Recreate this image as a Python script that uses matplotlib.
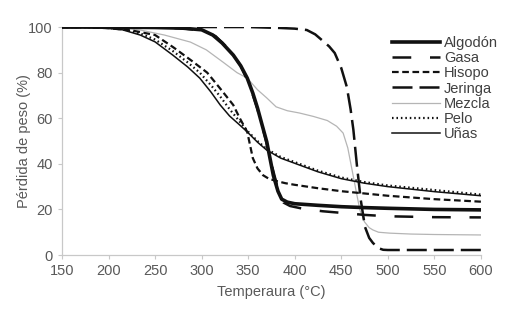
import matplotlib
matplotlib.use("Agg")
import matplotlib.pyplot as plt

plt.rcParams['font.family'] = ['Liberation Sans', 'DejaVu Sans']

alg_T = [150, 200, 250, 280, 300, 312, 322, 334, 342, 349, 355, 360, 365, 370, 377, 382, 386, 392, 400, 425, 450, 475, 500, 550, 600]
alg_w = [100, 100, 99.8, 99.5, 98.8, 96.5, 93, 87.7, 83, 77.6, 71, 64.5, 57, 49.6, 35, 28, 24.5, 23.2, 22.5, 21.8, 21.2, 20.8, 20.5, 20, 19.8]

gas_T = [150, 200, 250, 280, 300, 315, 330, 342, 352, 360, 368, 375, 382, 388, 395, 410, 430, 450, 475, 500, 550, 600]
gas_w = [100, 100, 99.8, 99.4, 98.5, 96, 90, 83, 74, 64, 52, 40, 29, 23, 21.5, 20.2, 19.2, 18.5, 17.6, 17, 16.6, 16.5]

his_T = [150, 175, 200, 225, 250, 270, 290, 306, 320, 334, 341, 349, 355, 360, 366, 372, 380, 390, 400, 425, 450, 475, 500, 550, 600]
his_w = [100, 99.9, 99.5, 98.5, 96.5, 91, 85, 80, 73, 65.8, 60, 54, 42.5, 38, 35, 33.5, 32.5, 31.5, 30.8, 29.3, 28, 27, 26, 24.5, 23.4]

jer_T = [150, 200, 250, 300, 350, 384, 400, 413, 422, 430, 437, 443, 450, 456, 460, 463, 467, 471, 475.5, 480, 484, 490, 495, 500, 550, 600]
jer_w = [100, 100, 100, 100, 100, 99.6, 99.3, 98.7, 96.8, 94, 91.5, 88.6, 82, 73.7, 64, 55, 38.6, 24, 12.3, 7.5, 5.3, 3, 2.3, 2.2, 2.2, 2.2]

mez_T = [150, 175, 200, 220, 234, 260, 288, 305, 323, 338, 349, 360, 370, 380, 392, 405, 420, 435, 445, 452, 457, 461, 466, 470, 475, 480, 484, 490, 502, 525, 550, 600]
mez_w = [100, 99.9, 99.7, 99.3, 98.7, 96.5, 93.4, 90, 84.6, 80, 77.6, 72.5, 68.9, 65, 63.3, 62.3, 60.8, 59, 56.5, 53.5, 47, 38.6, 28, 19.7, 14.5, 12, 11, 10, 9.6, 9.2, 9, 8.8]

pel_T = [150, 175, 200, 215, 234, 250, 269, 285, 298, 310, 320, 330, 341, 349, 360, 370, 385, 405, 425, 450, 475, 500, 550, 600]
pel_w = [100, 99.9, 99.6, 99, 97.2, 94.5, 89.5, 84.5, 80, 74.5, 69.5, 64, 58.5, 54.5, 50, 46.5, 43, 40, 37, 34, 32, 30.5, 28.5, 26.5]

una_T = [150, 175, 200, 215, 234, 250, 269, 285, 298, 310, 320, 330, 341, 349, 360, 370, 385, 405, 425, 450, 475, 500, 550, 600]
una_w = [100, 99.9, 99.4, 98.8, 96.5, 93.5, 87.7, 82.5, 77.6, 71.5, 65.8, 61, 57, 54, 49.5, 46, 42.5, 39.5, 36.5, 33.5, 31.5, 30, 27.8, 26]

x_ticks = [150, 200, 250, 300, 350, 400, 450, 500, 550, 600]
y_ticks = [0, 20, 40, 60, 80, 100]

fig = plt.figure(figsize=(5.14, 3.22), dpi=100)
ax = fig.add_axes([0.1206, 0.208, 0.815, 0.708])

ax.plot(mez_T, mez_w, color='#b5b5b5', lw=0.9, label='Mezcla', zorder=2)
ax.plot(una_T, una_w, color='#111111', lw=1.1, label='Uñas', zorder=3)
ax.plot(pel_T, pel_w, color='#111111', lw=1.6, ls=(0, (0.7, 1.3)), label='Pelo', zorder=3)
ax.plot(his_T, his_w, color='#111111', lw=1.6, ls=(0, (3.0, 1.6)), label='Hisopo', zorder=4)
ax.plot(gas_T, gas_w, color='#111111', lw=1.8, ls=(0, (7.5, 7.5)), label='Gasa', zorder=4)
ax.plot(jer_T, jer_w, color='#111111', lw=1.8, ls=(0, (8, 2.8)), label='Jeringa', zorder=5)
ax.plot(alg_T, alg_w, color='#111111', lw=2.6, label='Algodón', zorder=6)

ax.set_xlim(150, 600)
ax.set_ylim(0, 100)
ax.set_xticks(x_ticks)
ax.set_yticks(y_ticks)

for s in ['top', 'right']:
    ax.spines[s].set_visible(False)
for s in ['left', 'bottom']:
    ax.spines[s].set_color('#c8c8c8')
    ax.spines[s].set_linewidth(0.9)
ax.tick_params(axis='both', colors='#c8c8c8', labelcolor='#595959', labelsize=10.5, length=3, width=0.8)

ax.set_xlabel('Temperaura (°C)', color='#595959', fontsize=10.5, labelpad=5)
ax.set_ylabel('Pérdida de peso (%)', color='#595959', fontsize=10.5, labelpad=-2)

handles, labels = ax.get_legend_handles_labels()
order = ['Algodón', 'Gasa', 'Hisopo', 'Jeringa', 'Mezcla', 'Pelo', 'Uñas']
hmap = dict(zip(labels, handles))
leg = fig.legend([hmap[k] for k in order], order, loc='upper left',
                 bbox_to_anchor=(392 / 514, 1 - 36 / 322), frameon=False,
                 fontsize=10.5, handlelength=3.3, handletextpad=0.25,
                 labelspacing=0.08, borderpad=0, borderaxespad=0)
for t in leg.get_texts():
    t.set_color('#404040')

fig.savefig('out.png', dpi=100)
